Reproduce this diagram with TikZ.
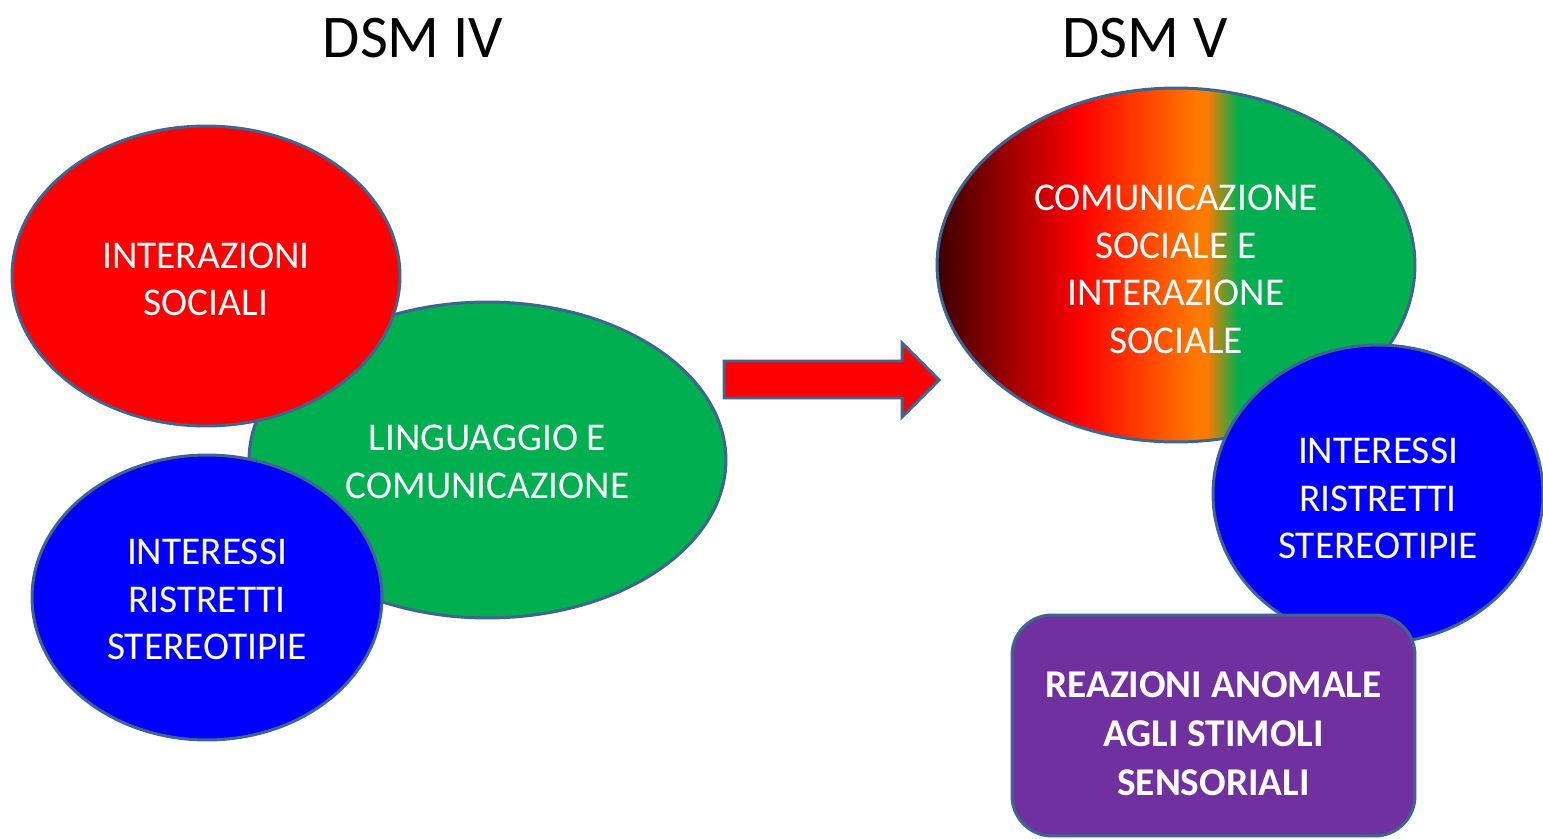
\documentclass[tikz,border=0pt]{standalone}
\usepackage{fontspec}
\setmainfont{Carlito}
\usetikzlibrary{shapes.geometric}
\definecolor{dsmred}{HTML}{FF0000}
\definecolor{dsmgreen}{HTML}{00B050}
\definecolor{dsmblue}{HTML}{0000FF}
\definecolor{dsmpurple}{HTML}{7030A0}
\definecolor{dsmborder}{HTML}{3E6491}
\definecolor{gdark}{HTML}{3C0000}
\definecolor{gorange}{HTML}{FF7A00}
\pgfdeclarehorizontalshading{dsmgrad}{100bp}{color(0bp)=(gdark); color(25bp)=(gdark); color(40bp)=(dsmred); color(52.2bp)=(gorange); color(53.2bp)=(gorange); color(56.5bp)=(dsmgreen); color(100bp)=(dsmgreen)}
\newcommand{\dsmbody}{\fontsize{22.4}{27.2}\selectfont}
\newcommand{\dsmbold}{\fontsize{22.4}{27.8}\selectfont\bfseries}
\newcommand{\dsmtitle}{\fontsize{34.5}{40}\selectfont}
\newcommand{\blk}[2][0.26cm]{\raisebox{0pt}[\dimexpr\height+#1\relax][\depth]{\begin{tabular}{@{}c@{}}#2\end{tabular}}}
\tikzset{
  blob/.style={ellipse, draw=dsmborder, line width=1.7pt, inner sep=0pt,
    text=white, font=\dsmbody},
  dsmhead/.style={anchor=base, font=\dsmtitle, text=black},
  bigarrow/.style={fill=dsmred, draw=dsmborder, line width=1.7pt, line join=miter},
  purplebox/.style={rectangle, rounded corners=0.8cm, draw=dsmborder, line width=1.7pt,
    fill=dsmpurple, text=white, font=\dsmbold, inner sep=0pt}
}
\begin{document}
\begin{tikzpicture}[x=0.02cm, y=-0.02cm]
\useasboundingbox (0,0) rectangle (1543,839);
% titles
\node[dsmhead] (t4) at (413,57) {DSM IV};
\node[dsmhead] (t5) at (1145,57) {DSM V};
% DSM IV
\node[blob, fill=dsmgreen, minimum width=9.54cm, minimum height=6.32cm] (ling) at (487.5,460) {\blk[0.2cm]{LINGUAGGIO E\\COMUNICAZIONE}};
\node[blob, fill=dsmred, minimum width=7.76cm, minimum height=6.0cm] (inter) at (206,276) {\blk{INTERAZIONI\\SOCIALI}};
\node[blob, fill=dsmblue, minimum width=7.0cm, minimum height=5.7cm] (rist4) at (207,597.5) {\blk[0.2cm]{INTERESSI\\RISTRETTI\\STEREOTIPIE}};
% arrow
\coordinate (atail) at (724,379.5);
\coordinate (atip) at (939,380);
\draw[bigarrow] (724,361) -- (902,361) -- (902,343) -- (atip) -- (902,417) -- (902,398) -- (724,398) -- cycle;
% DSM V
\node[blob, shading=dsmgrad, minimum width=9.56cm, minimum height=7.08cm] (comm) at (1176,265) {\blk[0.3cm]{COMUNICAZIONE\\SOCIALE E\\INTERAZIONE\\SOCIALE}};
\node[blob, fill=dsmblue, minimum width=6.6cm, minimum height=5.96cm] (rist5) at (1378,494) {\blk[0.3cm]{INTERESSI\\RISTRETTI\\STEREOTIPIE}};
\node[purplebox, minimum width=8.06cm, minimum height=4.42cm] (reaz) at (1213.5,725.5) {\raisebox{0pt}[\dimexpr\height+0.45cm\relax][\depth]{\begin{tabular}{@{}c@{}}REAZIONI ANOMALE\\AGLI STIMOLI\\SENSORIALI\end{tabular}}};
\end{tikzpicture}
\end{document}
